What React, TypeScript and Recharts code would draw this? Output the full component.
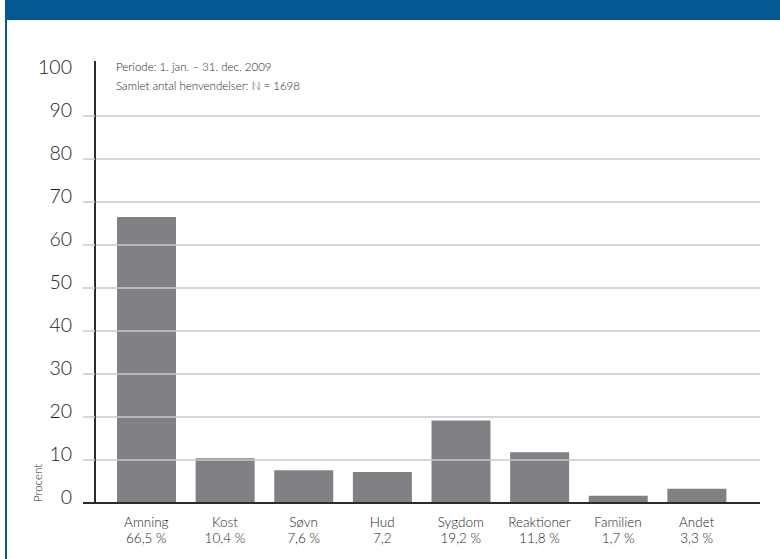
import React from "react";
import {
  BarChart,
  Bar,
  XAxis,
  YAxis,
  ReferenceLine,
} from "recharts";

// Henvendelser fordelt på emne, i procent
const CATEGORIES = ["Amning", "Kost", "Søvn", "Hud", "Sygdom", "Reaktioner", "Familien", "Andet"];
const SHARES = [66.5, 10.4, 7.6, 7.2, 19.2, 11.8, 1.7, 3.3];
const SHARE_UNITS = [" %", " %", " %", "", " %", " %", " %", " %"];

const Y_TICKS = [0, 10, 20, 30, 40, 50, 60, 70, 80, 90, 100];
const GRID_LEVELS = [10, 20, 30, 40, 50, 60, 70, 80, 90];

const NOTE_LINES = [
  "Periode: 1. jan. – 31. dec. 2009",
  "Samlet antal henvendelser: N = 1698",
];
const Y_LABEL = "Procent";

const FONT = "Lato, 'Open Sans', sans-serif";
const BLUE = "#045a90";
const BAR = "#808185";
const GRID = "#c9c9c9";
const AXIS = "#2b2b2b";
const TEXT = "#1e1e1e";

const data = CATEGORIES.map((name, i) => ({
  name,
  value: SHARES[i],
  label: SHARES[i].toFixed(1).replace(".", ",") + SHARE_UNITS[i],
}));

const TICK_LEN = 12;
const TICK_GAP = 11;

function YTick(props: any) {
  const { x, y, payload } = props;
  const v = payload.value as number;
  const lineStart = x + TICK_GAP;
  const lineEnd = lineStart + TICK_LEN;
  return (
    <g>
      {v < 100 && (
        <line
          x1={lineStart}
          x2={lineEnd}
          y1={y}
          y2={y}
          stroke={v === 0 ? AXIS : GRID}
          strokeWidth={v === 0 ? 2 : 1.5}
        />
      )}
      <text
        x={x}
        y={y + 1}
        textAnchor="end"
        fontSize={19.5}
        fontFamily={FONT}
        fontWeight={300}
        fill={TEXT}
      >
        {v}
      </text>
    </g>
  );
}

function XTick(props: any) {
  const { x, y, payload } = props;
  const row = data.find((d) => d.name === payload.value);
  return (
    <g>
      <text x={x} y={y + 24} textAnchor="middle" fontSize={13.5} fontWeight={300} fontFamily={FONT} fill={TEXT}>
        {payload.value}
      </text>
      <text x={x} y={y + 40} textAnchor="middle" fontSize={13.5} fontWeight={300} fontFamily={FONT} fill={TEXT}>
        {row ? row.label : ""}
      </text>
    </g>
  );
}

export default function App() {
  return (
    <div
      style={{
        position: "fixed",
        left: 0,
        top: 0,
        width: 800,
        height: 580,
        background: "#ffffff",
        overflow: "hidden",
        fontFamily: FONT,
      }}
    >
      {/* header band and left frame */}
      <div style={{ position: "absolute", left: 5, top: 0, right: 0, height: 20, background: BLUE }} />
      <div style={{ position: "absolute", left: 5, top: 20, width: 2, bottom: 0, background: BLUE }} />

      <div style={{ position: "absolute", left: 0, top: 0, width: 780, height: 559 }}>
        <BarChart
          width={780}
          height={559}
          data={data}
          margin={{ top: 61, right: 20, bottom: 16, left: 0 }}
        >
          <XAxis
            dataKey="name"
            height={40}
            axisLine={{ stroke: AXIS, strokeWidth: 2 }}
            tickLine={false}
            tickSize={0}
            tickMargin={0}
            padding={{ left: 12, right: 24 }}
            tick={<XTick />}
            interval={0}
          />
          <YAxis
            width={95}
            domain={[0, 102.8]}
            ticks={Y_TICKS}
            allowDataOverflow
            axisLine={{ stroke: AXIS, strokeWidth: 2 }}
            tickLine={false}
            tickSize={TICK_LEN}
            tickMargin={TICK_GAP}
            tick={<YTick />}
            interval={0}
          />
          <Bar dataKey="value" fill={BAR} barSize={59} isAnimationActive={false} />
          {GRID_LEVELS.map((lvl) => (
            <ReferenceLine key={lvl} y={lvl} stroke={GRID} strokeWidth={1.5} />
          ))}
        </BarChart>
      </div>

      <div
        style={{
          position: "absolute",
          left: 116,
          top: 57,
          fontSize: 11.5,
          fontWeight: 300,
          lineHeight: "19px",
          color: TEXT,
          fontFamily: FONT,
          whiteSpace: "nowrap",
        }}
      >
        {NOTE_LINES.map((t) => (
          <div key={t}>{t}</div>
        ))}
      </div>

      <div
        style={{
          position: "absolute",
          left: 37,
          top: 483,
          transform: "translate(-50%, -50%) rotate(-90deg)",
          fontSize: 11.5,
          fontWeight: 300,
          color: TEXT,
          fontFamily: FONT,
          whiteSpace: "nowrap",
        }}
      >
        {Y_LABEL}
      </div>
    </div>
  );
}
